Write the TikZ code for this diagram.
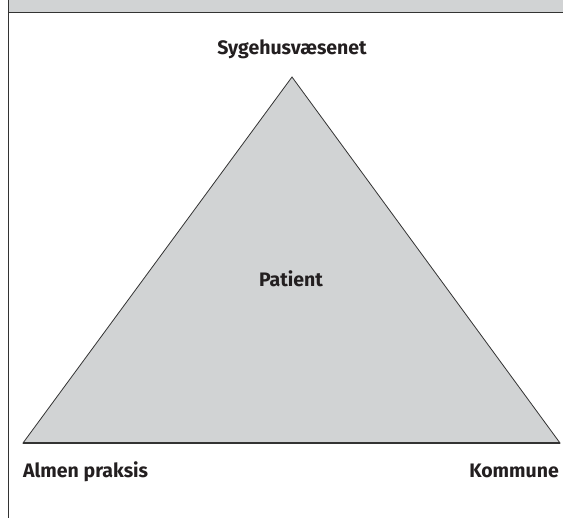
\documentclass[tikz,border=0pt]{standalone}
\usepackage{fontspec}
\setmainfont{Fira Sans}
\definecolor{bandgrey}{HTML}{D1D3D4}
\definecolor{trigrey}{HTML}{D1D3D4}
\definecolor{inkdark}{HTML}{231F20}
\definecolor{edgegrey}{HTML}{333333}
\tikzset{
  lbl/.style={font=\fontsize{19.5}{22}\selectfont\bfseries, text=inkdark, inner sep=0pt},
  frameline/.style={draw=edgegrey, line width=1.2pt}
}
\begin{document}
\begin{tikzpicture}[x=1pt,y=-1pt]
\useasboundingbox (0,0) rectangle (563,518);
\fill[white] (0,0) rectangle (563,518);
% header band
\fill[bandgrey] (8.5,0) rectangle (563,12.5);
\draw[frameline] (8.5,12.5) -- (563,12.5);
\draw[frameline] (8.5,0) -- (8.5,518);
% triangle
\coordinate (apex) at (292,77);
\coordinate (bl) at (23,443);
\coordinate (br) at (560,443);
\filldraw[fill=trigrey, draw=edgegrey, line width=0.8pt, line join=miter] (apex) -- (bl) -- (br) -- cycle;
\draw[edgegrey, line width=1.2pt] (bl) -- (br);
% labels
\node[lbl, anchor=base] (syg) at (292,55) {Sygehusvæsenet};
\node[lbl, anchor=base] (pat) at (291,287) {Patient};
\node[lbl, anchor=base west] (alm) at (23,478) {Almen praksis};
\node[lbl, anchor=base east] (kom) at (559,478) {Kommune};
\end{tikzpicture}
\end{document}
